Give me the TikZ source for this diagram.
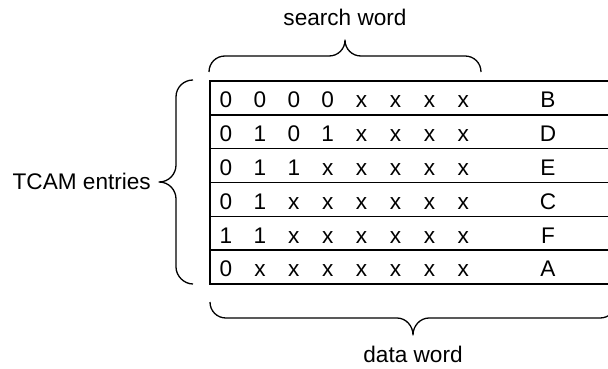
\documentclass[tikz,border=0pt]{standalone}
\usepackage{fontspec}
\setmainfont{Liberation Sans}
\begin{document}
\begin{tikzpicture}[x=1pt,y=-1pt,
  every node/.style={font=\fontsize{22.6}{26}\selectfont, inner sep=0pt},
  bit/.style={anchor=base},
  lbl/.style={anchor=base},
  frame/.style={draw=black, line width=1.5pt},
  curly/.style={draw=black, line width=1.3pt, line join=round}]
\useasboundingbox (0,0) rectangle (608,369);
\clip (0,0) rectangle (608,369);

% table of entries
\draw[frame] (210,81) rectangle (616,284);
\foreach \k in {1,...,5}
  \draw[frame] (210,{81+\k*33.83}) -- (616,{81+\k*33.83});

\foreach \r/\bits/\res in {
    1/{0,0,0,0,x,x,x,x}/B,
    2/{0,1,0,1,x,x,x,x}/D,
    3/{0,1,1,x,x,x,x,x}/E,
    4/{0,1,x,x,x,x,x,x}/C,
    5/{1,1,x,x,x,x,x,x}/F,
    6/{0,x,x,x,x,x,x,x}/A}{
  \foreach \b [count=\c] in \bits
    \node[bit] (b\r-\c) at ({226+(\c-1)*33.9},{81+(\r-1)*33.83+26.7}) {\b};
  \node[bit] (res\r) at (548,{81+(\r-1)*33.83+26.7}) {\res};
}

% labels
\node[lbl] (search) at (345,26) {search word};
\node[lbl, anchor=base east] (tcam) at (151,189.5) {TCAM entries};
\node[lbl] (data) at (413,362.5) {data word};

% brace over the search word
\draw[curly] (209,72) .. controls (209,63) and (216,56) .. (225,56)
  -- (329,56) .. controls (338,56) and (345,49) .. (345,40)
  .. controls (345,49) and (352,56) .. (361,56)
  -- (465,56) .. controls (474,56) and (481,63) .. (481,72);

% brace grouping the entries
\draw[curly] (193,80) .. controls (184,80) and (176,87) .. (176,97)
  -- (176,165) .. controls (176,174) and (169,182) .. (159,182)
  .. controls (169,182) and (176,190) .. (176,199)
  -- (176,267) .. controls (176,276) and (184,284) .. (193,284);

% brace under the data word
\draw[curly] (210,302) .. controls (210,311) and (217,318) .. (226,318)
  -- (397,318) .. controls (406,318) and (413,326) .. (413,335)
  .. controls (413,326) and (420,318) .. (429,318)
  -- (600,318) .. controls (609,318) and (616,311) .. (616,302);
\end{tikzpicture}
\end{document}
